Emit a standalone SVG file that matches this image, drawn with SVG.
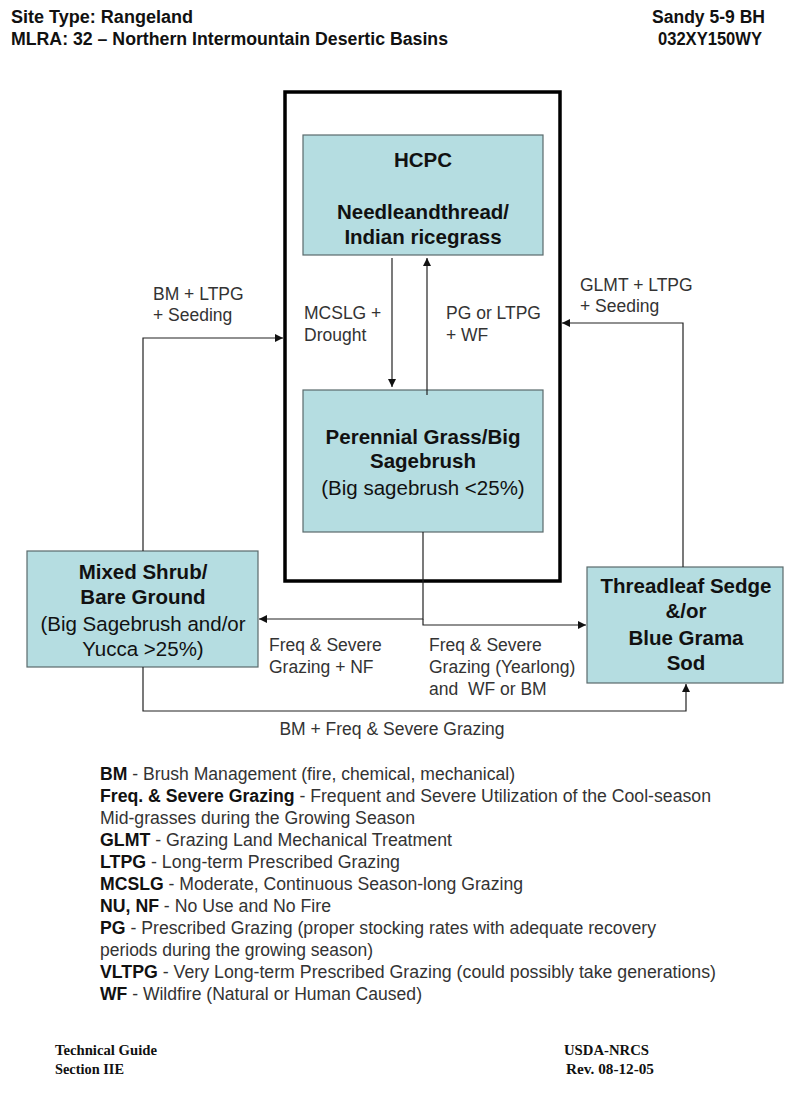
<svg xmlns="http://www.w3.org/2000/svg" width="800" height="1108" viewBox="0 0 800 1108">
<defs>
<style>
.hdr{font-family:"Liberation Sans",Arial,sans-serif;font-weight:bold;font-size:18px;fill:#111}
.box{fill:#b5dde1;stroke:#5a6a6c;stroke-width:1.2}
.bt{font-family:"Liberation Sans",Arial,sans-serif;font-weight:bold;font-size:20.5px;fill:#111;text-anchor:middle}
.nt{font-family:"Liberation Sans",Arial,sans-serif;font-size:20.5px;fill:#111;text-anchor:middle}
.lbl{font-family:"Liberation Sans",Arial,sans-serif;font-size:17.5px;fill:#333}
.leg{font-family:"Liberation Sans",Arial,sans-serif;font-size:17.5px;fill:#333}
.leg tspan.b{font-weight:bold;fill:#111}
.ft{font-family:"Liberation Serif","Times New Roman",serif;font-weight:bold;font-size:14px;fill:#111}
.cn{fill:none;stroke:#222;stroke-width:1.2}
</style>
<marker id="ah" viewBox="0 0 10 10" refX="10" refY="5" markerWidth="8" markerHeight="8" markerUnits="userSpaceOnUse" orient="auto">
<path d="M0,0 L10,5 L0,10 z" fill="#111"/>
</marker>
</defs>
<rect width="800" height="1108" fill="#fff"/>

<g id="header">
<text class="hdr" x="11" y="23" textLength="182" lengthAdjust="spacingAndGlyphs">Site Type: Rangeland</text>
<text class="hdr" x="11" y="45" textLength="437" lengthAdjust="spacingAndGlyphs">MLRA: 32 – Northern Intermountain Desertic Basins</text>
<text class="hdr" x="652" y="23" textLength="113" lengthAdjust="spacingAndGlyphs">Sandy 5-9 BH</text>
<text class="hdr" x="658" y="45" textLength="104" lengthAdjust="spacingAndGlyphs">032XY150WY</text>
</g>

<g id="outer-box">
<rect x="285" y="92" width="275" height="489" fill="none" stroke="#000" stroke-width="3.5"/>
</g>

<g id="hcpc">
<rect class="box" x="303" y="135" width="240" height="120"/>
<text class="bt" x="423" y="167">HCPC</text>
<text class="bt" x="423" y="219">Needleandthread/</text>
<text class="bt" x="423" y="244">Indian ricegrass</text>
</g>

<g id="perennial">
<rect class="box" x="303" y="390" width="240" height="142"/>
<text class="bt" x="423" y="444">Perennial Grass/Big</text>
<text class="bt" x="423" y="468">Sagebrush</text>
<text class="nt" x="423" y="495">(Big sagebrush &lt;25%)</text>
</g>

<g id="mixed-shrub">
<rect class="box" x="27" y="551" width="231" height="116"/>
<text class="bt" x="143" y="579">Mixed Shrub/</text>
<text class="bt" x="143" y="604">Bare Ground</text>
<text class="nt" x="143" y="631">(Big Sagebrush and/or</text>
<text class="nt" x="143" y="656">Yucca &gt;25%)</text>
</g>

<g id="threadleaf">
<rect class="box" x="587" y="567" width="196" height="116"/>
<text class="bt" x="686" y="593">Threadleaf Sedge</text>
<text class="bt" x="686" y="618">&amp;/or</text>
<text class="bt" x="686" y="645">Blue Grama</text>
<text class="bt" x="686" y="670">Sod</text>
</g>

<g id="connectors">
<path class="cn" d="M392,258 V387" marker-end="url(#ah)"/>
<path class="cn" d="M427,395 V258" marker-end="url(#ah)"/>
<path class="cn" d="M143,551 V338 H283" marker-end="url(#ah)"/>
<path class="cn" d="M683,567 V323 H562" marker-end="url(#ah)"/>
<path class="cn" d="M423,532 V619 H259" marker-end="url(#ah)"/>
<path class="cn" d="M423,619 V625 H586" marker-end="url(#ah)"/>
<path class="cn" d="M143,667 V711 H686 V684" marker-end="url(#ah)"/>
</g>

<g id="labels">
<text class="lbl" x="304" y="319">MCSLG +</text>
<text class="lbl" x="304" y="341">Drought</text>
<text class="lbl" x="446" y="319">PG or LTPG</text>
<text class="lbl" x="446" y="341">+ WF</text>
<text class="lbl" x="153" y="300">BM + LTPG</text>
<text class="lbl" x="153" y="321">+ Seeding</text>
<text class="lbl" x="580" y="291">GLMT + LTPG</text>
<text class="lbl" x="580" y="312">+ Seeding</text>
<text class="lbl" x="269" y="651">Freq &amp; Severe</text>
<text class="lbl" x="269" y="673">Grazing + NF</text>
<text class="lbl" x="429" y="651">Freq &amp; Severe</text>
<text class="lbl" x="429" y="673">Grazing (Yearlong)</text>
<text class="lbl" x="429" y="695">and &#160;WF or BM</text>
<text class="lbl" x="392" y="735" text-anchor="middle">BM + Freq &amp; Severe Grazing</text>
</g>

<g id="legend">
<text class="leg" x="100" y="780" textLength="415" lengthAdjust="spacingAndGlyphs"><tspan class="b">BM</tspan> - Brush Management (fire, chemical, mechanical)</text>
<text class="leg" x="100" y="802" textLength="611" lengthAdjust="spacingAndGlyphs"><tspan class="b">Freq. &amp; Severe Grazing</tspan> - Frequent and Severe Utilization of the Cool-season</text>
<text class="leg" x="100" y="824" textLength="315" lengthAdjust="spacingAndGlyphs">Mid-grasses during the Growing Season</text>
<text class="leg" x="100" y="846" textLength="352" lengthAdjust="spacingAndGlyphs"><tspan class="b">GLMT</tspan> - Grazing Land Mechanical Treatment</text>
<text class="leg" x="100" y="868" textLength="300" lengthAdjust="spacingAndGlyphs"><tspan class="b">LTPG</tspan> - Long-term Prescribed Grazing</text>
<text class="leg" x="100" y="890" textLength="423" lengthAdjust="spacingAndGlyphs"><tspan class="b">MCSLG</tspan> - Moderate, Continuous Season-long Grazing</text>
<text class="leg" x="100" y="912" textLength="231" lengthAdjust="spacingAndGlyphs"><tspan class="b">NU, NF</tspan> - No Use and No Fire</text>
<text class="leg" x="100" y="934" textLength="556" lengthAdjust="spacingAndGlyphs"><tspan class="b">PG</tspan> - Prescribed Grazing (proper stocking rates with adequate recovery</text>
<text class="leg" x="100" y="956" textLength="273" lengthAdjust="spacingAndGlyphs">periods during the growing season)</text>
<text class="leg" x="100" y="978" textLength="616" lengthAdjust="spacingAndGlyphs"><tspan class="b">VLTPG</tspan> - Very Long-term Prescribed Grazing (could possibly take generations)</text>
<text class="leg" x="100" y="1000" textLength="322" lengthAdjust="spacingAndGlyphs"><tspan class="b">WF</tspan> - Wildfire (Natural or Human Caused)</text>
</g>

<g id="footer">
<text class="ft" x="55" y="1055" textLength="102" lengthAdjust="spacingAndGlyphs">Technical Guide</text>
<text class="ft" x="55" y="1074" textLength="69" lengthAdjust="spacingAndGlyphs">Section IIE</text>
<text class="ft" x="564" y="1055" textLength="85" lengthAdjust="spacingAndGlyphs">USDA-NRCS</text>
<text class="ft" x="566" y="1074" textLength="88" lengthAdjust="spacingAndGlyphs">Rev. 08-12-05</text>
</g>
</svg>
